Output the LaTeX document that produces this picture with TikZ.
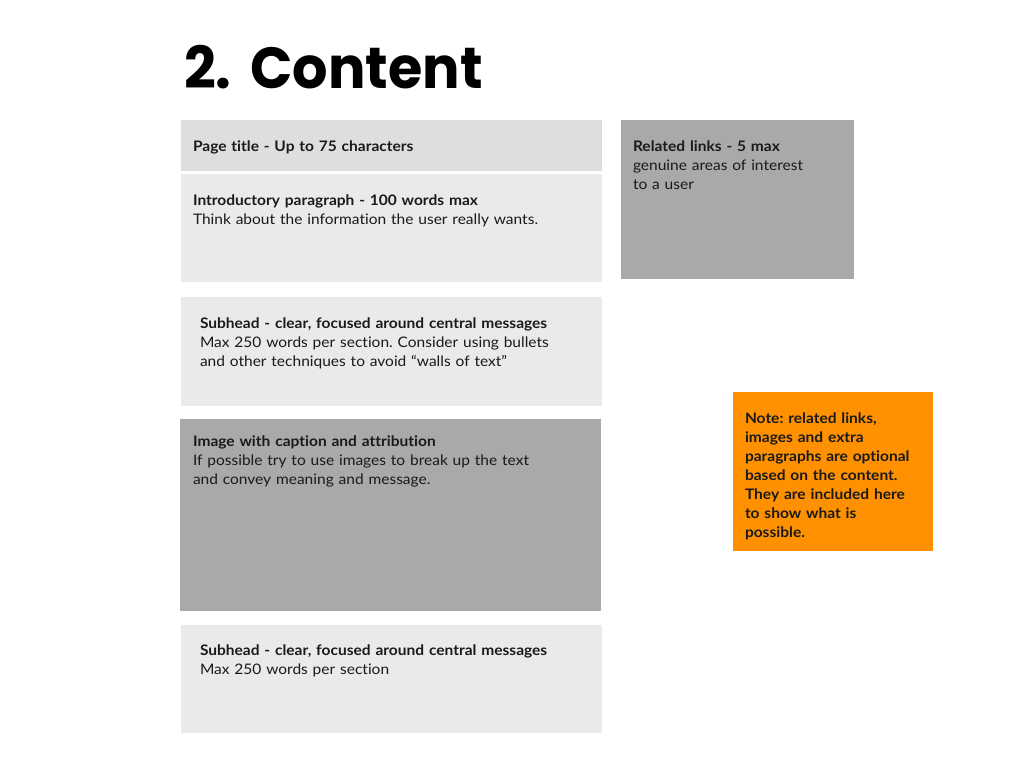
\documentclass[tikz,border=0pt]{standalone}
\usepackage{fontspec}
\setmainfont{Lato}[FakeStretch=1.07, Ligatures=NoCommon]
\newfontfamily\headfont{Poppins}[FakeStretch=0.96]
\frenchspacing
\definecolor{paletitle}{HTML}{DDDEE0}
\definecolor{lightpanel}{HTML}{EAEAEA}
\definecolor{darkpanel}{HTML}{A9A9A9}
\definecolor{notefill}{HTML}{FF9100}
\definecolor{ink}{HTML}{1A1A1A}
\begin{document}
\begin{tikzpicture}[x=1pt,y=-1pt,
  panel/.style={anchor=north west, inner sep=0pt, outer sep=0pt, draw=none},
  copy/.style={anchor=base west, inner sep=0pt, outer sep=0pt, align=left,
    text=ink, font=\fontsize{14.5}{19}\selectfont},
]
\useasboundingbox (0,0) rectangle (1024,768);

% heading
\node[anchor=base west, inner sep=0pt, text=black,
  font=\headfont\bfseries\fontsize{58}{58}\selectfont] (heading) at (184,88) {2.\hspace{0.12em} Content};

% main column panels
\node[panel, fill=paletitle, minimum width=421pt, minimum height=51pt] (pagetitle) at (181,120) {};
\node[panel, fill=lightpanel, minimum width=421pt, minimum height=108pt] (intro) at (181,174) {};
\node[panel, fill=lightpanel, minimum width=421pt, minimum height=109pt] (sub1) at (181,297) {};
\node[panel, fill=darkpanel, minimum width=421pt, minimum height=192pt] (image) at (180,419) {};
\node[panel, fill=lightpanel, minimum width=421pt, minimum height=108pt] (sub2) at (181,625) {};

% side panels
\node[panel, fill=darkpanel, minimum width=233pt, minimum height=159pt] (links) at (621,120) {};
\node[panel, fill=notefill, minimum width=200pt, minimum height=159pt] (note) at (733,392) {};

% panel copy
\node[copy, text width=400pt] (pagetitletxt) at (193,151)
  {\textbf{Page title - Up to 75 characters}};
\node[copy, text width=400pt] (introtxt) at (193,205)
  {\textbf{Introductory paragraph - 100 words max}\\
   Think about the information the user really wants.};
\node[copy, text width=400pt] (sub1txt) at (200,328)
  {\textbf{Subhead - clear, focused around central messages}\\
   Max 250 words per section. Consider using bullets\\
   and other techniques to avoid “walls of text”};
\node[copy, text width=400pt] (imagetxt) at (193,446)
  {\textbf{Image with caption and attribution}\\
   If possible try to use images to break up the text\\
   and convey meaning and message.};
\node[copy, text width=400pt] (sub2txt) at (200,655)
  {\textbf{Subhead - clear, focused around central messages}\\
   Max 250 words per section};
\node[copy, text width=215pt] (linkstxt) at (633,151)
  {\textbf{Related links - 5 max}\\
   genuine areas of interest\\
   to a user};
\node[copy, text width=185pt, font=\bfseries\fontsize{14.5}{19}\selectfont] (notetxt) at (745,423)
  {Note: related links,\\
   images and extra\\
   paragraphs are optional\\
   based on the content.\\
   They are included here\\
   to show what is\\
   possible.};
\end{tikzpicture}
\end{document}
